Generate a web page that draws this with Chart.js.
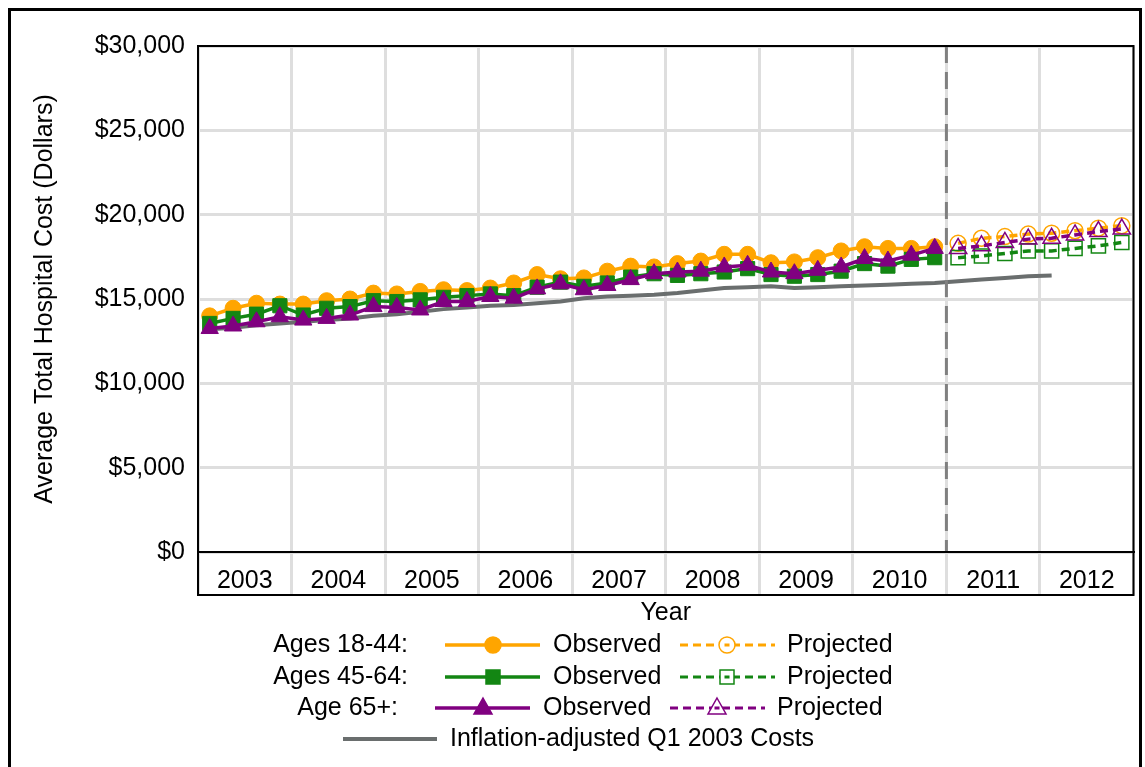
<!DOCTYPE html>
<html>
<head>
<meta charset="utf-8">
<script src="https://cdn.jsdelivr.net/npm/chart.js@4.4.1/dist/chart.umd.min.js"></script>
<style>
  html, body { margin: 0; padding: 0; background: #fff; overflow: hidden; }
  #wrap { position: relative; width: 1145px; height: 767px; }
</style>
</head>
<body>
<div id="wrap"><canvas id="chart"></canvas></div>
<script>
// Años del eje X (4 trimestres por año)
const years = ['2003', '2004', '2005', '2006', '2007', '2008', '2009', '2010', '2011', '2012'];
const yTicks = [0, 5000, 10000, 15000, 20000, 25000, 30000];

// Observado: 2003 T1 - 2010 T4
const obs1844 = [14000, 14450, 14750, 14700, 14700, 14900, 15000, 15350,
                 15300, 15450, 15550, 15500, 15650, 15950, 16450, 16200,
                 16250, 16650, 16950, 16900, 17100, 17250, 17650, 17650,
                 17150, 17200, 17450, 17850, 18100, 18000, 18000, 18100];
const obs4564 = [13550, 13850, 14100, 14600, 14050, 14450, 14550, 14900,
                 14850, 14950, 15100, 15200, 15300, 15200, 15700, 16000,
                 15750, 15950, 16300, 16500, 16400, 16500, 16600, 16800,
                 16450, 16350, 16450, 16650, 17100, 16950, 17350, 17450];
const obs65 = [13250, 13400, 13650, 13950, 13750, 13850, 14050, 14550,
               14500, 14350, 14850, 14850, 15150, 15050, 15600, 15900,
               15550, 15800, 16150, 16500, 16600, 16650, 16900, 17000,
               16600, 16500, 16700, 16900, 17400, 17250, 17600, 18000];

// Proyectado: 2011 T1 - 2012 T4
const proj1844 = [18300, 18600, 18700, 18850, 18900, 19050, 19200, 19350];
const proj4564 = [17450, 17550, 17700, 17850, 17850, 18000, 18150, 18350];
const proj65 = [18000, 18150, 18350, 18550, 18600, 18800, 19000, 19150];

// Costos del T1 2003 ajustados por inflación (2003 T1 - 2012 T1)
const inflation = [13200, 13300, 13450, 13550, 13650, 13750, 13850, 14000,
                   14100, 14250, 14400, 14500, 14600, 14650, 14750, 14850,
                   15050, 15150, 15200, 15250, 15350, 15500, 15650, 15700,
                   15750, 15650, 15700, 15750, 15800, 15850, 15900, 15950,
                   16050, 16150, 16250, 16350, 16400];

const ORANGE = '#ffa500';
const GREEN = '#138613';
const PURPLE = '#800080';
const GRAY = '#6a6e6e';
const GRID = '#dedede';
const FONT = "'Liberation Sans', Arial, sans-serif";

const nQuarters = years.length * 4;
const projStart = obs1844.length;

// Convierte una lista de valores en puntos {x, y} por trimestre
const toPoints = (values, start) => values.map((v, i) => ({ x: start + i + 0.5, y: v }));

const serie = (label, values, start, color, shape, projected, radius) => ({
  label,
  data: toPoints(values, start),
  borderColor: color,
  borderWidth: 3.5,
  borderDash: projected ? [8, 5] : [],
  pointStyle: shape,
  pointRadius: radius,
  pointBorderColor: color,
  pointBackgroundColor: projected ? 'rgba(0,0,0,0)' : color,
  pointBorderWidth: projected ? 1.5 : 1,
  tension: 0,
  fill: false
});

const datasets = [
  serie('Age 65+ Observed', obs65, 0, PURPLE, 'triangle', false, 10),
  serie('Age 65+ Projected', proj65, projStart, PURPLE, 'triangle', true, 10),
  serie('Ages 45-64 Observed', obs4564, 0, GREEN, 'rect', false, 10),
  serie('Ages 45-64 Projected', proj4564, projStart, GREEN, 'rect', true, 10),
  serie('Ages 18-44 Observed', obs1844, 0, ORANGE, 'circle', false, 8),
  serie('Ages 18-44 Projected', proj1844, projStart, ORANGE, 'circle', true, 8),
  {
    label: 'Inflation-adjusted Q1 2003 Costs',
    data: toPoints(inflation, 0),
    borderColor: GRAY,
    borderWidth: 4,
    pointRadius: 0,
    tension: 0,
    fill: false
  }
];

// Dibuja un marcador simple para la leyenda
const marker = (ctx, shape, x, y, color, open) => {
  ctx.save();
  ctx.fillStyle = open ? '#fff' : color;
  ctx.strokeStyle = color;
  ctx.lineWidth = 1.5;
  ctx.beginPath();
  if (shape === 'circle') {
    ctx.arc(x, y, 8, 0, Math.PI * 2);
  } else if (shape === 'rect') {
    ctx.rect(x - 7, y - 7, 14, 14);
  } else {
    ctx.moveTo(x, y - 10);
    ctx.lineTo(x + 9, y + 6);
    ctx.lineTo(x - 9, y + 6);
    ctx.closePath();
  }
  ctx.fill();
  ctx.stroke();
  if (open) {
    // la línea discontinua se ve a través del marcador
    ctx.fillStyle = color;
    ctx.fillRect(x - 2.5, y - 1.5, 5, 3);
  }
  ctx.restore();
};

const segment = (ctx, x0, x1, y, color, width, dash) => {
  ctx.save();
  ctx.strokeStyle = color;
  ctx.lineWidth = width;
  ctx.setLineDash(dash);
  ctx.beginPath();
  ctx.moveTo(x0, y);
  ctx.lineTo(x1, y);
  ctx.stroke();
  ctx.restore();
};

// Marco, banda de años, línea vertical discontinua y leyenda
const decoraciones = {
  id: 'decoraciones',
  afterDatasetsDraw(chart) {
    const { ctx, chartArea: a, scales } = chart;
    const bandBottom = a.bottom + 43;

    // línea discontinua entre observado y proyectado
    const xSplit = scales.x.getPixelForValue(projStart);
    ctx.save();
    ctx.strokeStyle = '#808080';
    ctx.lineWidth = 3;
    ctx.setLineDash([17, 9]);
    ctx.beginPath();
    ctx.moveTo(xSplit, a.top);
    ctx.lineTo(xSplit, a.bottom);
    ctx.stroke();
    ctx.restore();

    // recuadro del gráfico y de la banda de años
    ctx.save();
    ctx.strokeStyle = '#000';
    ctx.lineWidth = 2;
    ctx.strokeRect(a.left, a.top, a.right - a.left, bandBottom - a.top);
    ctx.beginPath();
    ctx.moveTo(a.left, a.bottom);
    ctx.lineTo(a.right, a.bottom);
    ctx.stroke();
    // borde exterior
    ctx.lineWidth = 3;
    ctx.strokeRect(9.5, 9.5, 1131, 800);
    ctx.restore();

    // leyenda
    ctx.save();
    ctx.font = '25px ' + FONT;
    ctx.fillStyle = '#000';
    ctx.textBaseline = 'middle';
    const rows = [
      { label: 'Ages 18-44:', color: ORANGE, shape: 'circle', y: 645, dx: 0 },
      { label: 'Ages 45-64:', color: GREEN, shape: 'rect', y: 677, dx: 0 },
      { label: 'Age 65+:', color: PURPLE, shape: 'triangle', y: 708, dx: -10 }
    ];
    rows.forEach(r => {
      ctx.textAlign = 'right';
      ctx.fillText(r.label, 408 + r.dx, r.y);
      segment(ctx, 445 + r.dx, 540 + r.dx, r.y, r.color, 3.5, []);
      marker(ctx, r.shape, 493 + r.dx, r.y, r.color, false);
      ctx.textAlign = 'left';
      ctx.fillStyle = '#000';
      ctx.fillText('Observed', 553 + r.dx, r.y);
      segment(ctx, 680 + r.dx, 775 + r.dx, r.y, r.color, 3, [8, 5]);
      marker(ctx, r.shape, 727 + r.dx, r.y, r.color, true);
      ctx.fillStyle = '#000';
      ctx.fillText('Projected', 787 + r.dx, r.y);
    });
    segment(ctx, 343, 437, 739, GRAY, 4, []);
    ctx.textAlign = 'left';
    ctx.fillText('Inflation-adjusted Q1 2003 Costs', 450, 739);
    ctx.restore();
  }
};

Chart.defaults.font.family = FONT;
Chart.defaults.font.size = 25;
Chart.defaults.color = '#000';

const ctx = document.getElementById('chart').getContext('2d');
const chart = new Chart(ctx, {
  type: 'line',
  data: { datasets },
  options: {
    responsive: true,
    maintainAspectRatio: false,
    animation: false,
    layout: { padding: { left: 0, top: 46, right: 8, bottom: 140 } },
    plugins: { legend: { display: false }, tooltip: { enabled: false } },
    scales: {
      x: {
        type: 'linear',
        min: 0,
        max: nQuarters,
        afterBuildTicks: scale => {
          const t = [];
          for (let v = 0; v <= nQuarters; v += 2) t.push({ value: v });
          scale.ticks = t;
        },
        afterFit: scale => { scale.height = 75; },
        ticks: {
          autoSkip: false,
          maxRotation: 0,
          padding: -29,
          callback: v => (v % 4 === 2 ? years[(v - 2) / 4] : '')
        },
        grid: {
          color: c => (c.tick && c.tick.value % 4 === 0 ? GRID : 'rgba(0,0,0,0)'),
          lineWidth: 3,
          tickLength: 43
        },
        border: { display: true, color: '#000', width: 2 },
        title: { display: true, text: 'Year', padding: { top: 0, bottom: -1 } }
      },
      y: {
        min: 0,
        max: 30000,
        afterBuildTicks: scale => { scale.ticks = yTicks.map(v => ({ value: v })); },
        afterFit: scale => { scale.width = 198; },
        ticks: {
          padding: 13,
          callback: v => '$' + v.toLocaleString('en-US')
        },
        grid: { color: GRID, lineWidth: 3, drawTicks: false },
        border: { display: true, color: '#000', width: 2 },
        title: {
          display: true,
          text: 'Average Total Hospital Cost (Dollars)',
          padding: { top: 30, bottom: 0 }
        }
      }
    }
  },
  plugins: [decoraciones]
});
</script>
</body>
</html>
